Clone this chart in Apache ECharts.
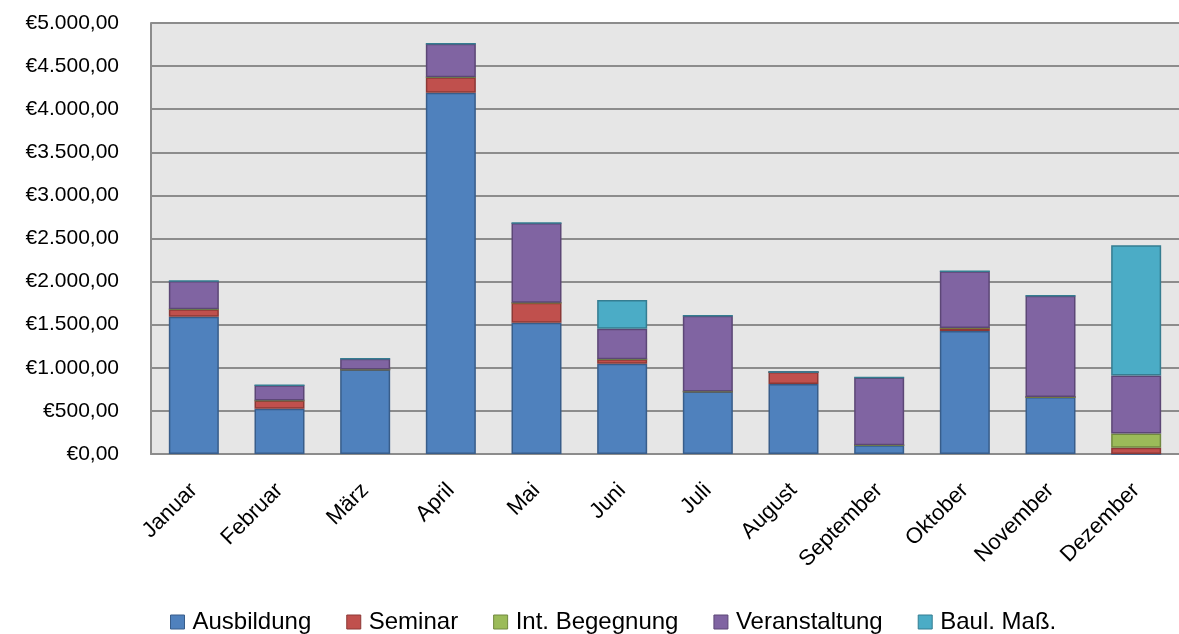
<!DOCTYPE html>
<html>
<head>
<meta charset="utf-8">
<script src="https://cdn.jsdelivr.net/npm/echarts@6/dist/echarts.min.js"></script>
<style>
html,body{margin:0;padding:0;background:#fff;}
#chart{width:1179px;height:634px;}
</style>
</head>
<body>
<div id="chart"></div>
<script>
const categories = ['Januar','Februar','März','April','Mai','Juni','Juli','August','September','Oktober','November','Dezember'];
const ausbildung    = [1593, 525, 980, 4190, 1524, 1048, 726, 811, 102, 1426, 660, 0];
const seminar       = [85, 96, 0, 180, 232, 50, 0, 139, 0, 35, 0, 72];
const intBegegnung  = [0, 0, 0, 0, 0, 0, 0, 0, 0, 0, 0, 166];
const veranstaltung = [330, 178, 125, 390, 924, 356, 879, 0, 786, 659, 1177, 674];
const baulMass      = [0, 0, 0, 0, 0, 332, 0, 0, 0, 0, 0, 1510];
const seriesNames = ['Ausbildung','Seminar','Int. Begegnung','Veranstaltung','Baul. Maß.'];
const yTickLabels = ['€0,00','€500,00','€1.000,00','€1.500,00','€2.000,00','€2.500,00','€3.000,00','€3.500,00','€4.000,00','€4.500,00','€5.000,00'];

const colors  = ['#4F81BD','#C0504D','#9BBB59','#8064A2','#4BACC6'];
const borders = ['#385D8A','#8C3836','#71893F','#5C4776','#357D91'];
const dataSets = [ausbildung, seminar, intBegegnung, veranstaltung, baulMass];

const chart = echarts.init(document.getElementById('chart'), null, {renderer:'canvas'});
const font = 'Liberation Sans';
chart.setOption({
  animation:false,
  backgroundColor:'#ffffff',
  color: colors,
  grid:{left:151, top:23, right:-12, bottom:180, show:true, backgroundColor:'#e6e6e6', borderWidth:0, containLabel:false},
  legend:{
    top:605, left:165,
    icon:'rect', itemWidth:14, itemHeight:14, itemGap:35,
    textStyle:{fontFamily:font, fontSize:24, color:'#000', padding:[0,0,0,3]},
    data: seriesNames.map((n,i)=>({name:n, itemStyle:{color:colors[i], borderColor:borders[i], borderWidth:1}}))
  },
  xAxis:{
    type:'category', data:categories,
    axisLine:{show:true, lineStyle:{color:'#8c8c8c', width:2}},
    axisTick:{show:false},
    axisLabel:{rotate:45, margin:33, fontFamily:font, fontSize:22, color:'#000', interval:0}
  },
  yAxis:{
    type:'value', min:0, max:5000, interval:500,
    axisLine:{show:true, lineStyle:{color:'#8c8c8c', width:2}},
    axisTick:{show:false},
    splitLine:{show:true, lineStyle:{color:'#8c8c8c', width:2}},
    axisLabel:{margin:32, fontFamily:font, fontSize:21, color:'#000',
      formatter:function(v){ return yTickLabels[Math.round(v/500)]; }}
  },
  series: dataSets.map((d,i)=>({
    name:seriesNames[i], type:'bar', stack:'total', barWidth:50,
    data:d,
    itemStyle:{color:colors[i], borderColor:borders[i], borderWidth:1.5}
  }))
});
</script>
</body>
</html>
